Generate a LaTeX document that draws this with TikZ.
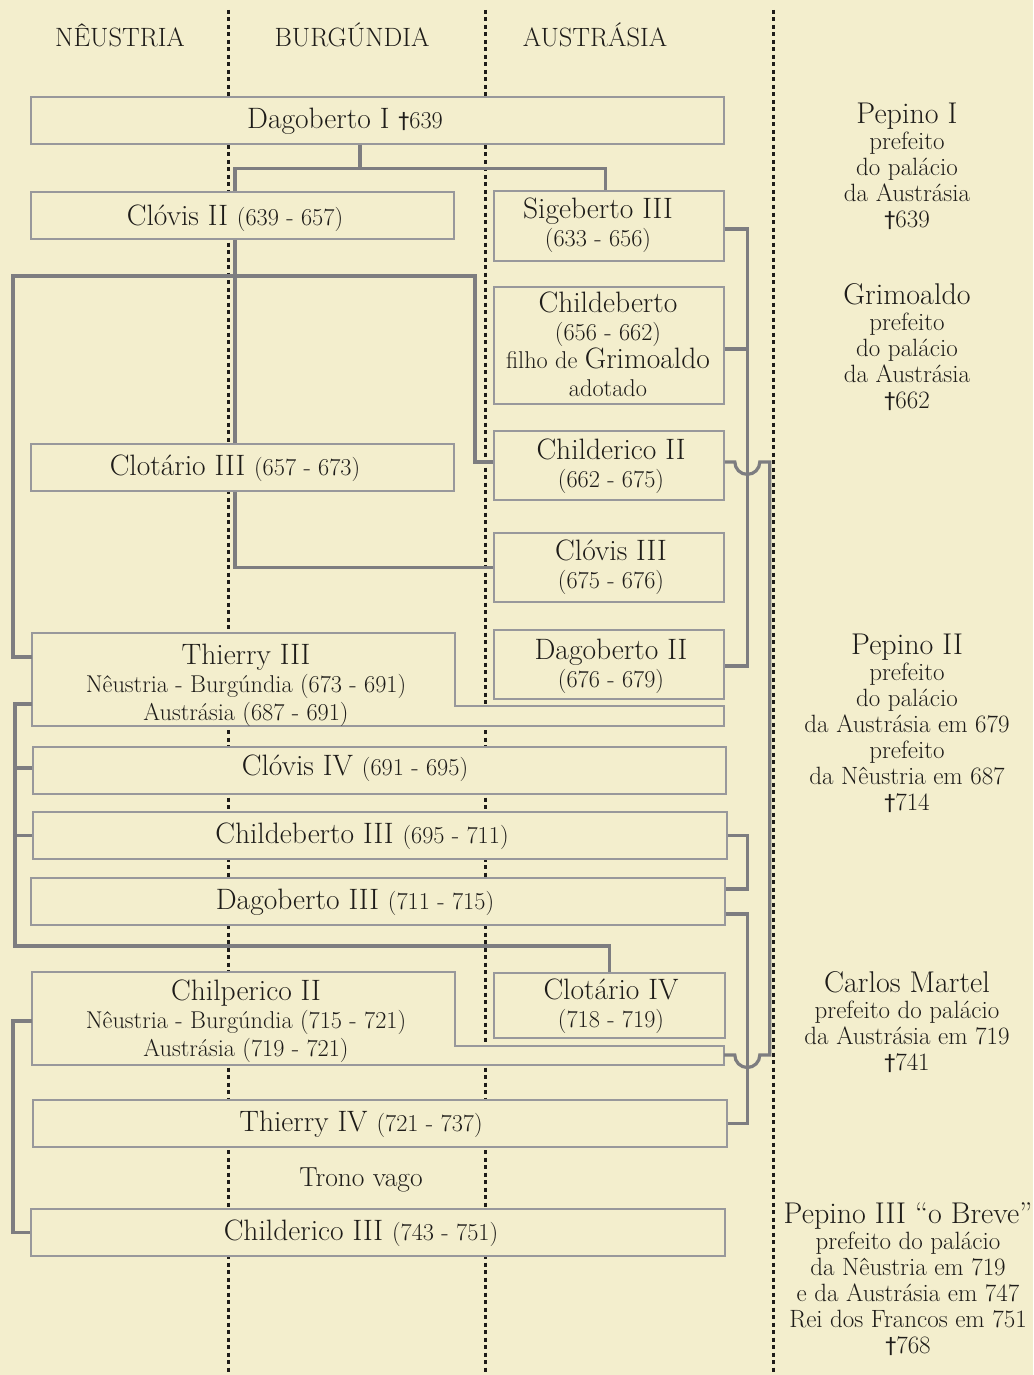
\documentclass[tikz,border=0pt]{standalone}
\usepackage{fontspec}
\newfontfamily\dagfam{DejaVu Sans}
\definecolor{bg}{RGB}{243,238,205}
\definecolor{boxc}{RGB}{152,152,155}
\definecolor{conc}{RGB}{125,125,128}
\definecolor{ink}{RGB}{30,28,25}
\newcommand\nmf{\fontsize{29.5}{28}\selectfont}
\newcommand\smf{\fontsize{24.3}{28}\selectfont}
\newcommand\hdf{\fontsize{26.5}{28}\selectfont}
\newcommand\tvf{\fontsize{27.5}{28}\selectfont}
\newcommand\rcn{\fontsize{30}{26}\selectfont}
\newcommand\rcs{\fontsize{25}{26}\selectfont}
\newcommand\obit{{\dagfam\fontsize{22}{26}\selectfont †}}
\begin{document}
\begin{tikzpicture}[x=1pt,y=-1pt,
  box/.style={draw=boxc,line width=1.8pt,fill=bg,inner sep=0pt,anchor=north west},
  pbox/.style={draw=boxc,line width=1.8pt,fill=bg},
  conn/.style={draw=conc,line width=3.2pt},
  guide/.style={draw=ink,line width=3pt,dash pattern=on 4pt off 3.5pt},
  txt/.style={text=ink,align=center,inner sep=0pt,font=\smf},
  rtxt/.style={text=ink,align=center,inner sep=0pt,font=\rcs},
]
\useasboundingbox (0,0) rectangle (1033,1375);
\fill[bg] (0,0) rectangle (1033,1375);

% column guides
\draw[guide] (228,10) -- (228,1375);
\draw[guide] (485,10) -- (485,1375);
\draw[guide] (773,10) -- (773,1375);

% headers
\node[txt,font=\hdf] (hN) at (120,35) {NÊUSTRIA};
\node[txt,font=\hdf] (hB) at (352,35) {BURGÚNDIA};
\node[txt,font=\hdf] (hA) at (595,35) {AUSTRÁSIA};

% boxes
\node[box,minimum width=693pt,minimum height=47pt] (dagI) at (30,96) {};
\node[box,minimum width=423pt,minimum height=47pt] (clovII) at (30,191) {};
\node[box,minimum width=230pt,minimum height=70pt] (sigIII) at (493,190) {};
\node[box,minimum width=230pt,minimum height=117pt] (childeb) at (493,286) {};
\node[box,minimum width=423pt,minimum height=47pt] (clotIII) at (30,443) {};
\node[box,minimum width=230pt,minimum height=69pt] (chII) at (493,430) {};
\node[box,minimum width=230pt,minimum height=69pt] (clIII) at (493,532) {};
\node[box,minimum width=230pt,minimum height=69pt] (dagII) at (493,629) {};
\draw[pbox] (32,633) -- (455,633) -- (455,706) -- (724,706) -- (724,726) -- (32,726) -- cycle;
\node[box,minimum width=693pt,minimum height=47pt] (clovIV) at (32,746) {};
\node[box,minimum width=694pt,minimum height=47pt] (chbIII) at (32,811) {};
\node[box,minimum width=694pt,minimum height=47pt] (dagIII) at (30,877) {};
\draw[pbox] (32,972) -- (455,972) -- (455,1046) -- (724,1046) -- (724,1065) -- (32,1065) -- cycle;
\node[box,minimum width=231pt,minimum height=65pt] (clotIV) at (493,972) {};
\node[box,minimum width=694pt,minimum height=47pt] (thIV) at (32,1099) {};
\node[box,minimum width=694pt,minimum height=47pt] (chdIII) at (30,1208) {};

\coordinate (thIIIa) at (32,657);
\coordinate (thIIIb) at (32,704);
\coordinate (chpIIw) at (32,1021);
\coordinate (chpIIe) at (724,1055);
\coordinate (jBr) at (475,276);
\coordinate (jC) at (608.5,946);

% texts in boxes
\node[txt] (tdagI) at (345,121) {\nmf Dagoberto I \obit\smf 639};
\node[txt] (tclovII) at (235,218) {\nmf Clóvis II \smf(639 - 657)};
\node[txt] (tsigIII) at (598,225) {\nmf Sigeberto III\\(633 - 656)};
\node[txt] (tchildeb) at (608,344) {\nmf Childeberto\\(656 - 662)\\filho de \nmf Grimoaldo\\adotado};
\node[txt] (tclotIII) at (235,468) {\nmf Clotário III \smf(657 - 673)};
\node[txt] (tchII) at (611,466) {\nmf Childerico II\\(662 - 675)};
\node[txt] (tclIII) at (611,567) {\nmf Clóvis III\\(675 - 676)};
\node[txt] (tdagII) at (611,666) {\nmf Dagoberto II\\(676 - 679)};
\node[txt] (tthIII) at (246,685) {\nmf Thierry III\\Nêustria - Burgúndia (673 - 691)\\Austrásia (687 - 691)};
\node[txt] (tclovIV) at (355,768) {\nmf Clóvis IV \smf(691 - 695)};
\node[txt] (tchbIII) at (362,836) {\nmf Childeberto III \smf(695 - 711)};
\node[txt] (tdagIII) at (355,902) {\nmf Dagoberto III \smf(711 - 715)};
\node[txt] (tchpII) at (246,1021) {\nmf Chilperico II\\Nêustria - Burgúndia (715 - 721)\\Austrásia (719 - 721)};
\node[txt] (tclotIV) at (611,1006) {\nmf Clotário IV\\(718 - 719)};
\node[txt] (tthIV) at (361,1124) {\nmf Thierry IV \smf(721 - 737)};
\node[txt,font=\tvf] (tvago) at (361,1180) {Trono vago};
\node[txt] (tchdIII) at (361,1233) {\nmf Childerico III \smf(743 - 751)};

% right column
\node[rtxt] (pep1) at (907,166) {\rcn Pepino I\\prefeito\\do palácio\\da Austrásia\\\obit 639};
\node[rtxt] (grim) at (907,347) {\rcn Grimoaldo\\prefeito\\do palácio\\da Austrásia\\\obit 662};
\node[rtxt] (pep2) at (907,723) {\rcn Pepino II\\prefeito\\do palácio\\da Austrásia em 679\\prefeito\\da Nêustria em 687\\\obit 714};
\node[rtxt] (carl) at (907,1022) {\rcn Carlos Martel\\prefeito do palácio\\da Austrásia em 719\\\obit 741};
\node[rtxt] (pep3) at (908,1279) {\rcn Pepino III “o Breve”\\prefeito do palácio\\da Nêustria em 719\\e da Austrásia em 747\\Rei dos Francos em 751\\\obit 768};

% connectors
\draw[conn] ([xshift=-17.5pt]dagI.south) -- ++(0,24) coordinate (jA);
\draw[conn] ([xshift=-7.5pt]clovII.north) |- ([xshift=-3.5pt]sigIII.north |- jA) -- ([xshift=-3.5pt]sigIII.north);
\draw[conn] ([xshift=-7.5pt]clovII.south) -- ([xshift=-7.5pt]clotIII.north);
\draw[conn] (thIIIa) -- ++(-19pt,0) |- (jBr) |- ([yshift=3.5pt]chII.west);
\draw[conn] ([xshift=-7.5pt]clotIII.south) |- (clIII.west);
\draw[conn] ([yshift=-3pt]sigIII.east) -- ++(23pt,0) coordinate (rA) |- ([yshift=-1.5pt]dagII.east);
\draw[conn] ([yshift=-3.5pt]childeb.east) -| (rA);
\draw[conn] ([yshift=3.5pt]chII.east) -- ++(10pt,0) arc[start angle=180,end angle=360,radius=12.5pt] -- ++(10pt,0) coordinate (rB) -- (rB |- chpIIe) -- ++(-10pt,0) arc[start angle=0,end angle=-180,radius=12.5pt] -- (chpIIe);
\draw[conn] (thIIIb) -- ++(-17pt,0) |- (clotIV.north |- jC) -- (clotIV.north);
\draw[conn] ([yshift=2.5pt]clovIV.west) -- ++(-17pt,0);
\draw[conn] (chbIII.west) -- ++(-17pt,0);
\draw[conn] (chbIII.east) -- ++(20pt,0) |- ([yshift=12.5pt]dagIII.east);
\draw[conn] ([yshift=-12.5pt]dagIII.east) -- ++(22pt,0) |- (thIV.east);
\draw[conn] (chpIIw) -- ++(-19pt,0) |- (chdIII.west);
\end{tikzpicture}
\end{document}
